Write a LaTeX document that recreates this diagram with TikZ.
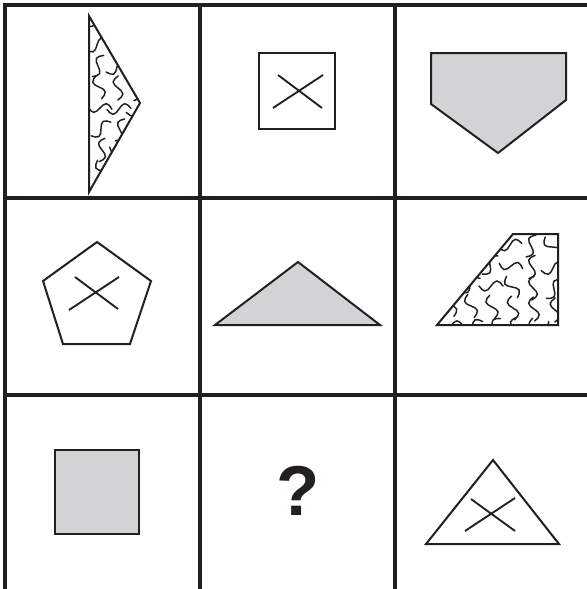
\documentclass[tikz,border=0pt]{standalone}
\usepackage{fontspec}
\setmainfont{Liberation Sans}
\definecolor{net}{RGB}{35,31,32}
\definecolor{xam}{RGB}{209,211,212}
\newcommand{\songan}[3]{%
  \draw[line width=1.1pt, net, line cap=round, shift={(#1,#2)}, rotate=#3] (-12,0) sin (-6,5) cos (0,0) sin (6,-5) cos (12,0);}
\begin{document}
\begin{tikzpicture}[x=0.75pt, y=-0.75pt, line join=miter]
    % Khung hình
    \useasboundingbox (0,0) rectangle (586,589);
    \fill[white] (0,0) rectangle (586,589);

    % 1. Lưới 3x3
    \draw[line width=2.3pt, net] (5,5) rectangle (590,590.5);
    \draw[line width=2.3pt, net] (200,5) -- (200,590) (395,5) -- (395,590);
    \draw[line width=2.3pt, net] (5,198) -- (590,198) (5,395) -- (590,395);

    % 2. Hàng 1: tam giác sóng, hình vuông có dấu x, ngũ giác xám
    \begin{scope}
      \clip (89,16) -- (140,103) -- (89,192) -- cycle;
      \foreach \i in {0,...,2} \foreach \j in {0,...,8} {
        \pgfmathsetmacro{\gx}{96+19*\i+mod(9*\j,8)}
        \pgfmathsetmacro{\gy}{24+21*\j+mod(11*\i,10)}
        \pgfmathsetmacro{\ga}{mod(67*\i+41*\j+23*\i*\j,150)-20}
        \songan{\gx}{\gy}{\ga}
      }
    \end{scope}
    \draw[line width=1.5pt, net] (89,16) -- (140,103) -- (89,192) -- cycle;

    \draw[line width=1.5pt, net] (259,53) rectangle (335,129);
    \draw[line width=1.4pt, net] (278,75) -- (322,108) (273,108) -- (323,75);

    \draw[line width=1.5pt, net, fill=xam] (431,53) -- (566,53) -- (566,100) -- (498,153) -- (431,104) -- cycle;

    % 3. Hàng 2: ngũ giác có dấu x, tam giác xám, hình thang sóng
    \draw[line width=1.5pt, net] (97,242) -- (151,281) -- (130,344) -- (63,344) -- (43,281) -- cycle;
    \draw[line width=1.4pt, net] (75,277) -- (118,309) (69,310) -- (119,277);

    \draw[line width=1.5pt, net, fill=xam] (215,325) -- (298,262) -- (380,325) -- cycle;

    \begin{scope}
      \clip (437,325) -- (513,234) -- (558,234) -- (558,325) -- cycle;
      \foreach \i in {0,...,5} \foreach \j in {0,...,4} {
        \pgfmathsetmacro{\gx}{447+21*\i+mod(9*\j,8)}
        \pgfmathsetmacro{\gy}{242+21*\j+mod(11*\i,10)}
        \pgfmathsetmacro{\ga}{mod(59*\i+43*\j+29*\i*\j,150)-20}
        \songan{\gx}{\gy}{\ga}
      }
    \end{scope}
    \draw[line width=1.5pt, net] (437,325) -- (513,234) -- (558,234) -- (558,325) -- cycle;

    % 4. Hàng 3: hình vuông xám, dấu hỏi, tam giác có dấu x
    \draw[line width=1.5pt, net, fill=xam] (55,450) rectangle (139,534);

    \node[net, font=\fontsize{53}{60}\selectfont\bfseries, inner sep=0pt] (hoi) at (298,491) {?};

    \draw[line width=1.5pt, net] (426,544) -- (493,460) -- (559,544) -- cycle;
    \draw[line width=1.4pt, net] (471,499) -- (515,531) (465,531) -- (515,498);

\end{tikzpicture}
\end{document}
